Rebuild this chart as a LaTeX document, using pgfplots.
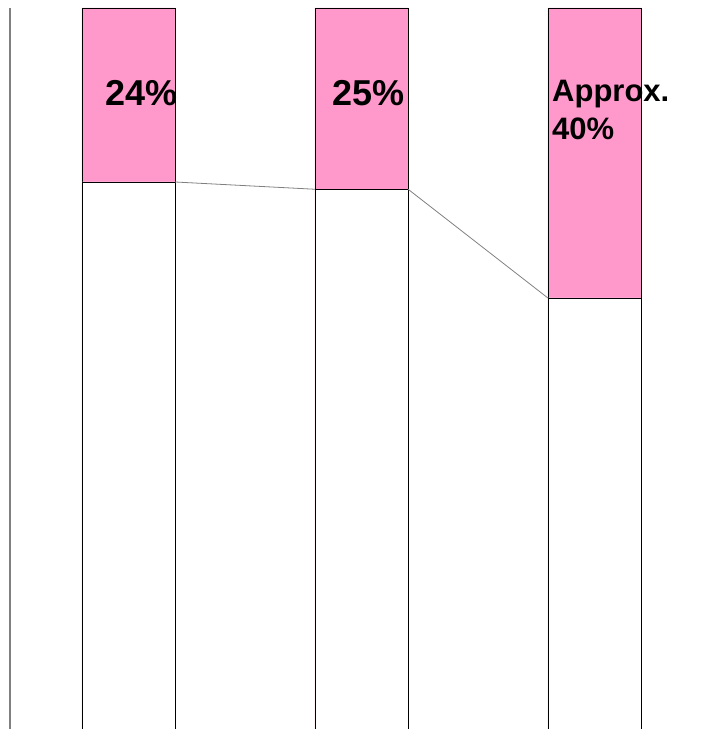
\documentclass[border=0pt]{standalone}
\usepackage{fontspec}
\setmainfont{Liberation Sans}
\usepackage{pgfplots}
\usepackage{pgfplotstable}
\pgfplotsset{compat=1.18}
\definecolor{barpink}{RGB}{255,153,204}
\definecolor{axgray}{RGB}{128,128,128}

\pgfplotstableread{
x white pink
0 76 24
1 75 25
2 60 40
}\shares

\begin{document}
\begin{tikzpicture}
\clip (-10pt,4pt) rectangle (703pt,733pt);
\begin{axis}[
	at={(0,0)}, anchor=south west,
	scale only axis,
	width=703pt, height=725pt,
	xmin=-0.5086, xmax=2.5086,
	ymin=0, ymax=100,
	axis x line=none,
	axis y line=left,
	y axis line style={axgray, line width=1.6pt, -},
	xtick=\empty, ytick=\empty,
	clip=false,
]
% whole bar (pink share on top of the rest)
\addplot[ybar, bar width=0.4, bar shift=0pt, fill=barpink, draw=black, line width=0.8pt]
	table[x=x, y expr=\thisrow{white}+\thisrow{pink}] {\shares};
% lower part
\addplot[ybar, bar width=0.4, bar shift=0pt, fill=white, draw=black, line width=0.8pt]
	table[x=x, y=white] {\shares};
% series lines between the bars
\addplot[axgray, line width=0.8pt, no marks] coordinates {(0.2,76) (0.8,75)};
\addplot[axgray, line width=0.8pt, no marks] coordinates {(1.2,75) (1.8,60)};

\node[anchor=base west, inner sep=0pt, font=\bfseries\fontsize{36}{40}\selectfont] at (axis cs:-0.1009,86.62) {24\%};
\node[anchor=base west, inner sep=0pt, font=\bfseries\fontsize{36}{40}\selectfont] at (axis cs:0.8734,86.62) {25\%};
\node[anchor=base west, inner sep=0pt, font=\bfseries\fontsize{31}{38}\selectfont] at (axis cs:1.8176,87.17) {Approx.};
\node[anchor=base west, inner sep=0pt, font=\bfseries\fontsize{31}{38}\selectfont] at (axis cs:1.8176,81.93) {40\%};
\end{axis}
\end{tikzpicture}
\end{document}
